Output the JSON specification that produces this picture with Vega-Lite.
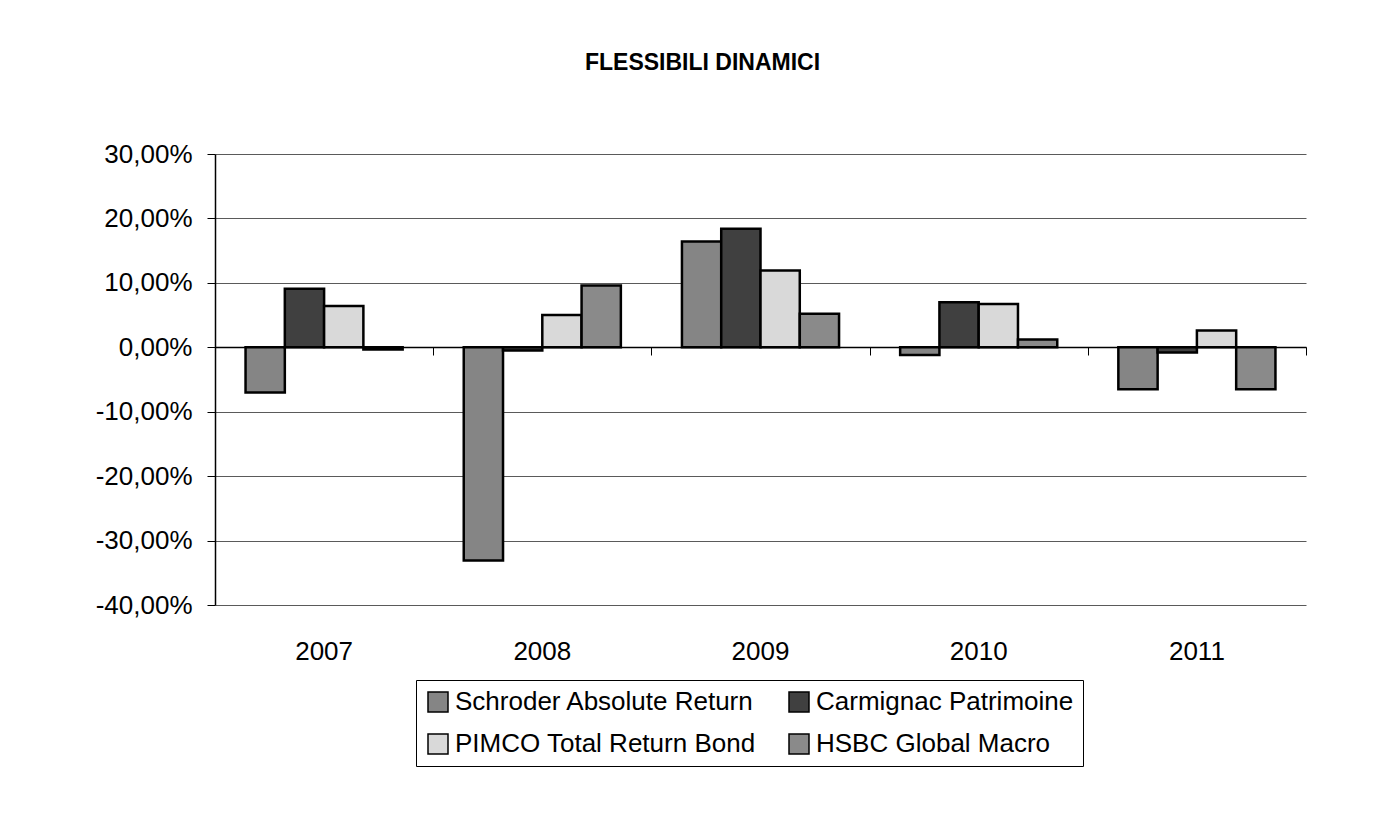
{
  "$schema": "https://vega.github.io/schema/vega-lite/v6.json",
  "width": 1091,
  "height": 451,
  "autosize": {"type": "none"},
  "padding": {"left": 215, "top": 154, "right": 68, "bottom": 232},
  "background": "white",
  "title": {
    "text": "FLESSIBILI DINAMICI",
    "font": "Liberation Sans",
    "fontSize": 23,
    "fontWeight": "bold",
    "color": "black",
    "anchor": "middle",
    "frame": "group",
    "dx": -58,
    "offset": 66
  },
  "data": {
    "values": [
      {"year": "2007", "fund": "Schroder Absolute Return", "value": -0.070},
      {"year": "2007", "fund": "Carmignac Patrimoine", "value": 0.091},
      {"year": "2007", "fund": "PIMCO Total Return Bond", "value": 0.064},
      {"year": "2007", "fund": "HSBC Global Macro", "value": -0.0035},
      {"year": "2008", "fund": "Schroder Absolute Return", "value": -0.331},
      {"year": "2008", "fund": "Carmignac Patrimoine", "value": -0.005},
      {"year": "2008", "fund": "PIMCO Total Return Bond", "value": 0.050},
      {"year": "2008", "fund": "HSBC Global Macro", "value": 0.096},
      {"year": "2009", "fund": "Schroder Absolute Return", "value": 0.164},
      {"year": "2009", "fund": "Carmignac Patrimoine", "value": 0.184},
      {"year": "2009", "fund": "PIMCO Total Return Bond", "value": 0.119},
      {"year": "2009", "fund": "HSBC Global Macro", "value": 0.052},
      {"year": "2010", "fund": "Schroder Absolute Return", "value": -0.012},
      {"year": "2010", "fund": "Carmignac Patrimoine", "value": 0.070},
      {"year": "2010", "fund": "PIMCO Total Return Bond", "value": 0.067},
      {"year": "2010", "fund": "HSBC Global Macro", "value": 0.012},
      {"year": "2011", "fund": "Schroder Absolute Return", "value": -0.065},
      {"year": "2011", "fund": "Carmignac Patrimoine", "value": -0.008},
      {"year": "2011", "fund": "PIMCO Total Return Bond", "value": 0.026},
      {"year": "2011", "fund": "HSBC Global Macro", "value": -0.065}
    ]
  },
  "encoding": {
    "xOffset": {
      "field": "fund",
      "type": "nominal",
      "sort": ["Schroder Absolute Return", "Carmignac Patrimoine", "PIMCO Total Return Bond", "HSBC Global Macro"],
      "scale": {"paddingInner": 0, "paddingOuter": 0}
    },
    "y": {
      "field": "value",
      "type": "quantitative",
      "scale": {"domain": [-0.4, 0.3], "nice": false, "zero": false},
      "axis": {
        "title": null,
        "values": [-0.4, -0.3, -0.2, -0.1, 0, 0.1, 0.2, 0.3],
        "labelExpr": "replace(replace(format(datum.value, '.2%'), '.', ','), '\u2212', '-')",
        "labelFont": "Liberation Sans",
        "labelFontSize": 26,
        "labelColor": "black",
        "labelPadding": 15,
        "tickSize": 8,
        "tickColor": "black",
        "domainColor": "black",
        "domainWidth": 1.5,
        "grid": true,
        "gridColor": "#5a5a5a",
        "gridWidth": 1
      }
    }
  },
  "layer": [
    {
      "mark": {"type": "bar", "stroke": "black", "strokeWidth": 2.5},
      "encoding": {
        "x": {
          "field": "year",
          "type": "nominal",
          "scale": {"paddingInner": 0.28, "paddingOuter": 0.14},
          "axis": {
            "title": null,
            "orient": "bottom",
            "labelAngle": 0,
            "labelFont": "Liberation Sans",
            "labelFontSize": 26,
            "labelColor": "black",
            "labelPadding": 33,
            "ticks": false,
            "domain": false,
            "grid": false
          }
        },
        "color": {
          "field": "fund",
          "type": "nominal",
          "sort": ["Schroder Absolute Return", "Carmignac Patrimoine", "PIMCO Total Return Bond", "HSBC Global Macro"],
          "scale": {
            "domain": ["Schroder Absolute Return", "Carmignac Patrimoine", "PIMCO Total Return Bond", "HSBC Global Macro"],
            "range": ["#858585", "#404040", "#d9d9d9", "#8a8a8a"]
          },
          "legend": {
            "title": null,
            "orient": "none",
            "legendX": 201,
            "legendY": 526,
            "direction": "horizontal",
            "columns": 2,
            "gridAlign": "all",
            "columnPadding": 30,
            "rowPadding": 16,
            "padding": 9,
            "strokeColor": "black",
            "symbolType": "square",
            "symbolSize": 400,
            "symbolStrokeColor": "black",
            "symbolStrokeWidth": 1.5,
            "symbolOpacity": 1,
            "labelFont": "Liberation Sans",
            "labelFontSize": 26,
            "labelColor": "black",
            "labelOffset": 4,
            "labelLimit": 0
          }
        }
      }
    },
    {
      "mark": {"type": "bar", "opacity": 0},
      "encoding": {
        "x": {
          "field": "year",
          "type": "nominal",
          "scale": {"paddingInner": 0, "paddingOuter": 0},
          "axis": {
            "title": null,
            "orient": "bottom",
            "offset": -258,
            "labels": false,
            "grid": false,
            "ticks": true,
            "tickBand": "extent",
            "tickSize": 8,
            "tickColor": "black",
            "domain": true,
            "domainColor": "black",
            "domainWidth": 1.5
          }
        }
      }
    }
  ],
  "resolve": {"scale": {"x": "independent"}, "axis": {"x": "independent"}},
  "config": {
    "view": {"stroke": null},
    "font": "Liberation Sans"
  }
}
